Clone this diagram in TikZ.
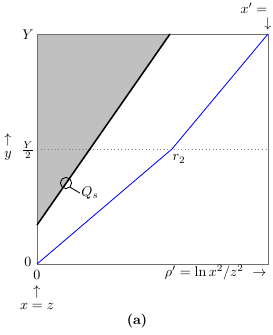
\documentclass[tikz,border=0pt]{standalone}
\usepackage{amsmath}
\usepackage{xcolor}
\usepackage{tikz}
\usetikzlibrary{positioning, calc}
\definecolor{cmarco}{HTML}{6e6e6e}
\definecolor{csombra}{HTML}{c0c0c0}
\tikzset{
  marco/.style={draw=cmarco, line width=0.7pt},
  frontera/.style={draw=black, line width=1.1pt},
  curva/.style={draw=blue, line width=0.6pt},
  guia/.style={draw=gray, dotted, line width=0.5pt},
  etiqueta/.style={inner sep=1pt},
}

\begin{document}
\begin{tikzpicture}[x=0.025cm, y=-0.025cm]
        \useasboundingbox (0,0) rectangle (273,335);
        \coordinate (o) at (37,264);
        \coordinate (so) at (37,34);
        \coordinate (se) at (268,34);
        \coordinate (ie) at (268,264);
        \coordinate (b0) at (37,225);
        \coordinate (b1) at (170,34);
        \coordinate (r2) at (172,149);
        \coordinate (m0) at (37,149);
        \coordinate (m1) at (268,149);
        % region sombreada
        \fill[csombra] (so) -- (b1) -- (b0) -- cycle;
        \draw[guia] (m0) -- (m1);
        \draw[marco] (so) -- (o) -- (ie) -- (se) -- cycle;
        \draw[frontera] (b0) -- (b1);
        \draw[curva] (o) -- (r2) -- (se);
        \node[draw, circle, line width=0.6pt, minimum size=8pt, inner sep=0pt] (qs) at (66,183) {};
        \node[etiqueta] (lqs) at (90,193) {$Q_s$};
        \draw[line width=0.6pt] (qs.south east) -- (lqs.west);
        \node[etiqueta] (lr2) at (179,159) {$r_2$};
        \node[etiqueta] (ly) at (28,35) {$Y$};
        \node[etiqueta] (lymed) at (28,150) {$\frac{Y}{2}$};
        \node[etiqueta] (flecha_y) at (8,140) {$\uparrow$};
        \node[etiqueta] (eje_y) at (8,156) {$y$};
        \node[etiqueta] (cero_y) at (28,262) {$0$};
        \node[etiqueta] (cero_x) at (37,275) {$0$};
        \node[etiqueta] (flecha_xz) at (37,292) {$\uparrow$};
        \node[etiqueta] (xz) at (37,306) {$x=z$};
        \node[etiqueta, anchor=east] (rho) at (268,273) {$\rho'=\ln x^2/z^2\ \rightarrow$};
        \node[inner sep=0pt] (xp) at (254,8.5) {$x'=$};
        \node[inner sep=0pt] (flecha_x) at (268,24) {$\downarrow$};
        \node[etiqueta] (cap) at (137,321) {\textbf{(a)}};
    \end{tikzpicture}
\end{document}
